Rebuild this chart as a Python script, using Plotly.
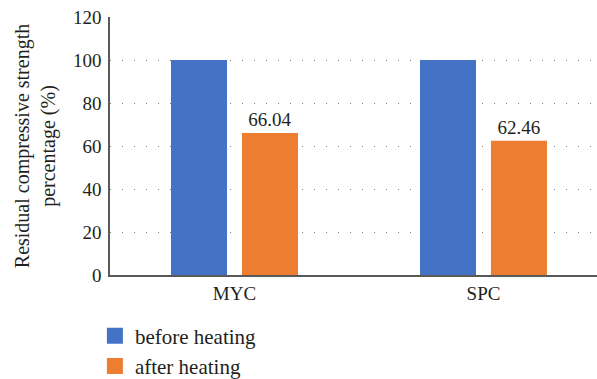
import plotly.graph_objects as go

categories = ["MYC", "SPC"]
before_heating = [100, 100]
after_heating = [66.04, 62.46]
after_labels = ["66.04", "62.46"]
y_ticks = [0, 20, 40, 60, 80, 100, 120]

FONT = "Liberation Serif, Times New Roman, serif"
BLUE = "#4472C4"
ORANGE = "#ED7D31"
TXT = "#231F20"

fig = go.Figure()
fig.add_trace(go.Bar(x=categories, y=before_heating, name="before heating",
                     marker=dict(color=BLUE, line=dict(width=0)),
                     offset=-0.255, width=0.225, showlegend=False))
fig.add_trace(go.Bar(x=categories, y=after_heating, name="after heating",
                     marker=dict(color=ORANGE, line=dict(width=0)),
                     offset=0.030, width=0.225, showlegend=False,
                     text=after_labels, textposition="outside",
                     textfont=dict(family=FONT, size=19, color=TXT),
                     cliponaxis=False))
# legend proxies with larger square swatches
fig.add_trace(go.Scatter(x=[None], y=[None], mode="markers", name="before heating",
                         marker=dict(symbol="square", size=16, color=BLUE)))
fig.add_trace(go.Scatter(x=[None], y=[None], mode="markers", name="after heating",
                         marker=dict(symbol="square", size=16, color=ORANGE)))

fig.update_layout(
    width=597, height=379,
    margin=dict(l=110, r=0, t=17, b=104, autoexpand=False),
    plot_bgcolor="white", paper_bgcolor="white",
    font=dict(family=FONT, size=19, color=TXT),
    barmode="overlay",
    showlegend=True,
    legend=dict(x=-0.031, y=-0.157, xanchor="left", yanchor="top",
                orientation="v", tracegroupgap=0,
                font=dict(family=FONT, size=21, color=TXT),
                bgcolor="rgba(0,0,0,0)"),
    xaxis=dict(range=[-0.5, 1.456], showline=True, linecolor="#595959", linewidth=1.5,
               ticks="", showgrid=False, tickfont=dict(size=19)),
    yaxis=dict(range=[0, 120], tickvals=y_ticks, showline=True, linecolor="#595959",
               linewidth=1.5, ticks="", showgrid=True, gridcolor="#7f7f7f",
               griddash="1px,11px", gridwidth=1.2, zeroline=False,
               tickfont=dict(size=19), ticklabelstandoff=3,
               title=dict(text="Residual compressive strength<br>percentage (%)",
                          font=dict(size=20), standoff=12)),
)

fig.write_html("out.html", config={"displayModeBar": False},
               post_script="document.body.style.margin='0';document.body.style.overflow='hidden';")
